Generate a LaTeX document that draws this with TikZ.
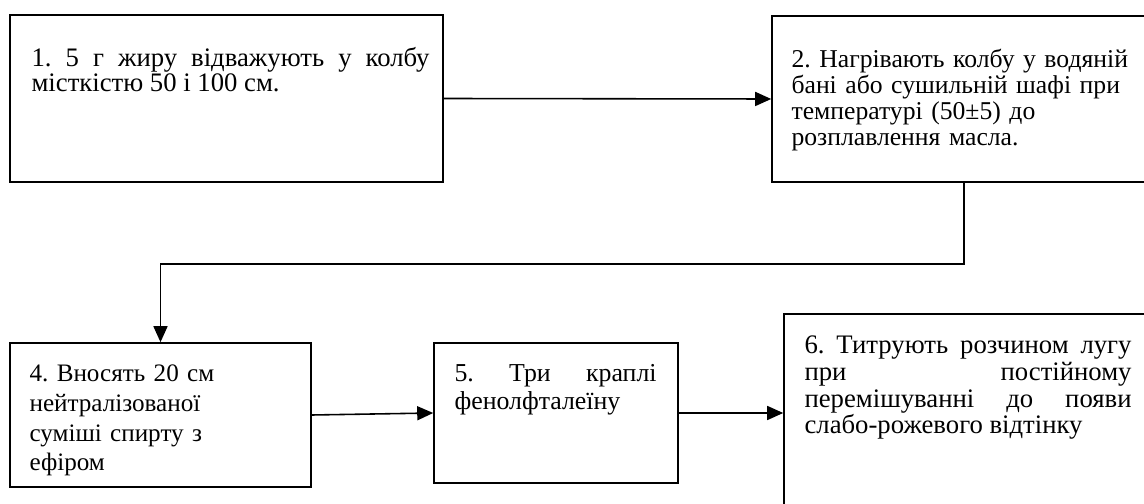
\documentclass[tikz,border=0pt]{standalone}
\usepackage{fontspec}
\setmainfont{Liberation Serif}
\usepackage{tikz}
\usetikzlibrary{positioning}
\usetikzlibrary{arrows.meta}
\frenchspacing

\begin{document}
\begin{tikzpicture}[
	stepBox/.style={rectangle, draw=black, line width=0.9pt},
	stepText/.style 2 args={anchor=north west, inner sep=0pt, font=\fontsize{#1}{#2}\selectfont},
	flowArrow/.style={line width=0.9pt, -{Triangle[length=0.32cm, width=0.28cm]}}]
		\useasboundingbox (0,0) rectangle (22.88,-10.08);
		% top row
		\node[stepBox, minimum width=8.66cm, minimum height=3.34cm](step1Box) at (4.53,-1.97){};
		\node[stepText={15.2}{13.2}, text width=7.96cm, align=justify](step1Text) at ([xshift=0.44cm, yshift=-0.66cm]step1Box.north west){1. 5 г жиру відважують у колбу\linebreak місткістю 50 і 100 см.};
		\node[stepBox, minimum width=7.9cm, minimum height=3.32cm](step2Box) at (19.39,-1.98){};
		\node[stepText={14.6}{14.8}, text width=7cm, align=left](step2Text) at ([xshift=0.40cm, yshift=-0.68cm]step2Box.north west){2. Нагрівають колбу у водяній\\ бані або сушильній шафі при\\ температурі (50±5) до\\ розплавлення масла.};
		% bottom row
		\node[stepBox, minimum width=6.02cm, minimum height=2.88cm](step4Box) at (3.21,-8.30){};
		\node[stepText={14.3}{17}, text width=5.4cm, align=left](step4Text) at ([xshift=0.40cm, yshift=-0.44cm]step4Box.north west){4. Вносять 20 см\\ нейтралізованої\\ суміші спирту з\\ ефіром};
		\node[stepBox, minimum width=4.88cm, minimum height=2.80cm](step5Box) at (11.12,-8.26){};
		\node[stepText={14.7}{15.9}, text width=4.04cm, align=justify](step5Text) at ([xshift=0.42cm, yshift=-0.44cm]step5Box.north west){5. Три краплі\linebreak фенолфталеїну};
		\node[stepBox, minimum width=7.6cm, minimum height=4.1cm](step6Box) at (19.48,-8.33){};
		\node[stepText={15.2}{15.2}, text width=6.54cm, align=justify](step6Text) at ([xshift=0.42cm, yshift=-0.45cm]step6Box.north west){6. Титрують розчином лугу\linebreak при постійному\linebreak перемішуванні до появи\linebreak слабо-рожевого відтінку};
		% connectors
		\draw[flowArrow] (step1Box.east) -- (step2Box.west);
		\draw[flowArrow] ([xshift=-0.11cm]step2Box.south) -- ++(0,-1.62) -| (step4Box.north);
		\draw[flowArrow] (step4Box.east) -- (step5Box.west);
		\draw[flowArrow] (step5Box.east) -- (step5Box.east -| step6Box.west);
	\end{tikzpicture}
\end{document}
